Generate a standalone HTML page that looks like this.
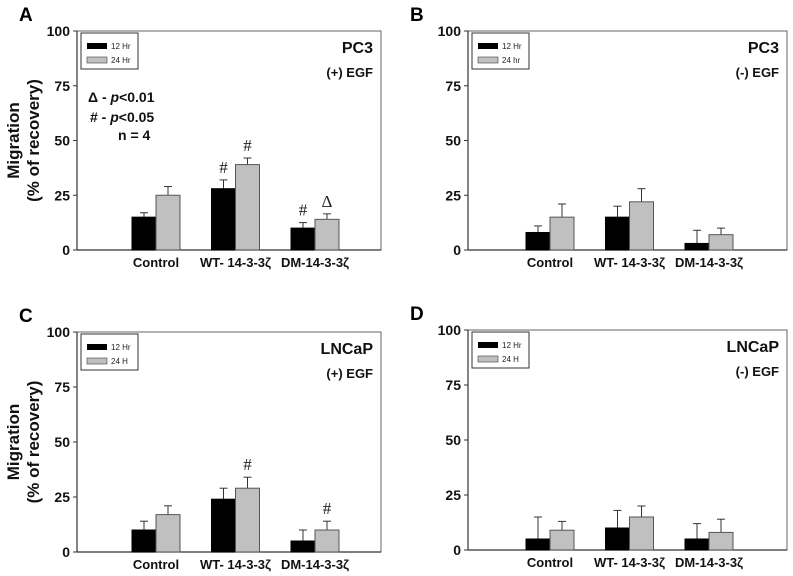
<!DOCTYPE html>
<html><head><meta charset="utf-8"><style>
body{margin:0;background:#fff}
svg{display:block;font-family:"Liberation Sans",sans-serif}
</style></head><body>
<svg id="fig" width="793" height="576" viewBox="0 0 793 576"></svg>
<script>
const categories = ["Control","WT- 14-3-3ζ","DM-14-3-3ζ"];
const ticks = [0,25,50,75,100];
const a12 = [15,28,10], a12e = [2,4,2.5], a24 = [25,39,14], a24e = [4,3,2.5];
const b12 = [8,15,3],  b12e = [3,5,6],   b24 = [15,22,7],  b24e = [6,6,3];
const c12 = [10,24,5], c12e = [4,5,5],   c24 = [17,29,10], c24e = [4,5,4];
const d12 = [5,10,5],  d12e = [10,8,7],  d24 = [9,15,8],   d24e = [4,5,6];
const aMarks = [["",""],["#","#"],["#","Δ"]];
const cMarks = [["",""],["","#"],["","#"]];

const NS="http://www.w3.org/2000/svg";
const svg=document.getElementById('fig');
function el(tag,attrs,parent,text){const e=document.createElementNS(NS,tag);for(const k in attrs)e.setAttribute(k,attrs[k]);if(text!==undefined)e.textContent=text;(parent||svg).appendChild(e);return e;}

function panel(cfg){
  const g=el('g',{});
  
  
  const x0=cfg.x0,x1=cfg.x1,yT=cfg.yT,yB=cfg.yB;
  const y=v=>yB-(v/100)*(yB-yT);
  const cx=i=>x0+cfg.off+i*79.5;
  const bw=24;
  const t=el('text',{x:cfg.x0-58,y:yT-10,'font-size':19,'font-weight':'bold'},g,cfg.letter);
  
  
  const fr=el('rect',{x:x0,y:yT,width:x1-x0,height:yB-yT,fill:'none',stroke:'#666','stroke-width':1},g);
  
  
  el('line',{x1:x0,y1:yT,x2:x0,y2:yB,stroke:'#333','stroke-width':1.2},g);
  el('line',{x1:x0,y1:yB,x2:x1,y2:yB,stroke:'#333','stroke-width':1.2},g);
  ticks.forEach(v=>{
    el('line',{x1:x0-4,y1:y(v),x2:x0,y2:y(v),stroke:'#333'},g);
    const tl=el('text',{x:x0-7,y:y(v)+5,'font-size':14,'font-weight':'bold','text-anchor':'end',fill:'#111'},g,String(v));
    
    
  });
  categories.forEach((c,i)=>{
    const cl=el('text',{x:cx(i),y:yB+17,'font-size':13,'font-weight':'bold','text-anchor':'middle',fill:'#111'},g,c);
    
    
  });
  [[cfg.s12,cfg.e12,'#000','#000',-bw],[cfg.s24,cfg.e24,'#c0c0c0','#555',0]].forEach(([s,e,fill,st,dx],k)=>{
    s.forEach((v,i)=>{
      const bx=cx(i)+dx;
      const top=y(v+e[i]);
      el('line',{x1:bx+bw/2,y1:y(v),x2:bx+bw/2,y2:top,stroke:'#333'},g);
      el('line',{x1:bx+bw/2-4,y1:top,x2:bx+bw/2+4,y2:top,stroke:'#333'},g);
      const b=el('rect',{x:bx,y:y(v),width:bw,height:yB-y(v),fill:fill,stroke:st,'stroke-width':1},g);
      
      
      if(cfg.marks&&cfg.marks[i][k]){
        const m=el('text',{x:bx+bw/2,y:top-7,'font-size':17,'text-anchor':'middle','font-family':'Liberation Serif, serif',fill:'#222'},g,cfg.marks[i][k]);
        
        
      }
    });
  });
  const lg=el('g',{},g);
  
  
  el('rect',{x:x0+4,y:yT+2,width:57,height:36,fill:'#fff',stroke:'#333'},lg);
  el('rect',{x:x0+10,y:yT+12,width:20,height:6,fill:'#000'},lg);
  el('rect',{x:x0+10,y:yT+26,width:20,height:6,fill:'#c0c0c0',stroke:'#555','stroke-width':0.7},lg);
  el('text',{x:x0+34,y:yT+18,'font-size':8,fill:'#222'},lg,'12 Hr');
  el('text',{x:x0+34,y:yT+32,'font-size':8,fill:'#222'},lg,cfg.l24);
  const t1=el('text',{x:x1-8,y:yT+22,'font-size':16,'font-weight':'bold','text-anchor':'end',fill:'#111'},g,cfg.title);
  
  
  const t2=el('text',{x:x1-8,y:yT+46,'font-size':13,'font-weight':'bold','text-anchor':'end',fill:'#111'},g,cfg.sub);
  
  
  if(cfg.ytitle){
    const cy=(yT+yB)/2;
    const a=el('text',{x:0,y:0,'font-size':17,'font-weight':'bold','text-anchor':'middle',transform:`translate(19,${cy}) rotate(-90)`,fill:'#111'},g,'Migration');
    
    
    const b=el('text',{x:0,y:0,'font-size':17,'font-weight':'bold','text-anchor':'middle',transform:`translate(39,${cy}) rotate(-90)`,fill:'#111'},g,'(% of recovery)');
    
    
  }
  return g;
}
panel({letter:'A',x0:77,x1:381,yT:31,yB:250,off:79,s12:a12,e12:a12e,s24:a24,e24:a24e,marks:aMarks,l24:'24 Hr',title:'PC3',sub:'(+) EGF',ytitle:true});
panel({letter:'B',x0:468,x1:787,yT:31,yB:250,off:82,s12:b12,e12:b12e,s24:b24,e24:b24e,l24:'24 hr',title:'PC3',sub:'(-) EGF'});
panel({letter:'C',x0:77,x1:381,yT:332,yB:552,off:79,s12:c12,e12:c12e,s24:c24,e24:c24e,marks:cMarks,l24:'24 H',title:'LNCaP',sub:'(+) EGF',ytitle:true});
panel({letter:'D',x0:468,x1:787,yT:330,yB:550,off:82,s12:d12,e12:d12e,s24:d24,e24:d24e,l24:'24 H',title:'LNCaP',sub:'(-) EGF'});
const st=el('g',{});


const s1=el('text',{x:88,y:102,'font-size':14,'font-weight':'bold',fill:'#111'},st);
s1.innerHTML='Δ - <tspan font-style="italic">p</tspan>&lt;0.01';
const s2=el('text',{x:90,y:122,'font-size':14,'font-weight':'bold',fill:'#111'},st);
s2.innerHTML='# - <tspan font-style="italic">p</tspan>&lt;0.05';
el('text',{x:118,y:140,'font-size':14,'font-weight':'bold',fill:'#111'},st,'n = 4');
</script>
</body></html>
